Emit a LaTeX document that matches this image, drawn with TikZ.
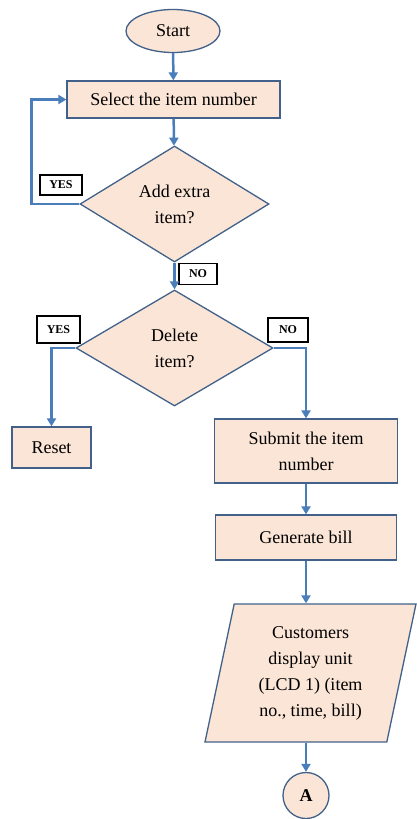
\documentclass[tikz,border=0pt]{standalone}
\usepackage{fontspec}
\setmainfont{Liberation Serif}
\usetikzlibrary{shapes.geometric,arrows.meta}
\definecolor{boxfill}{HTML}{FBE5D6}
\definecolor{boxline}{HTML}{41618A}
\definecolor{arrblue}{HTML}{4A7EBB}
\begin{document}
\begin{tikzpicture}[x=1pt,y=-1pt,
		every node/.style={font=\fontsize{18}{26}\selectfont},
		blk/.style={draw=boxline,fill=boxfill,line width=1.3pt,align=center,inner sep=2pt},
		arr/.style={draw=arrblue,line width=2.5pt,-{Triangle[width=9pt,length=8pt]}},
		lbl/.style={draw=black,fill=white,line width=1.4pt,inner sep=0pt,font=\fontsize{12}{14}\selectfont\bfseries}]
	\useasboundingbox (0,0) rectangle (416,819);
	\node[blk,ellipse,minimum width=94pt,minimum height=43pt] (start) at (173,31){Start};
	\node[blk,minimum width=213pt,minimum height=37pt] (select) at (173.5,99.5){Select the item number};
	\node[blk,diamond,aspect=1.63,minimum width=189pt,minimum height=116pt,inner sep=0pt] (add) at (174.5,204){Add extra\\item?};
	\node[blk,diamond,aspect=1.7,minimum width=197pt,minimum height=116pt,inner sep=0pt] (del) at (174.5,348){Delete\\item?};
	\node[blk,minimum width=79pt,minimum height=41pt] (reset) at (51.5,447.5){Reset};
	\node[blk,minimum width=183pt,minimum height=64pt] (submit) at (306,451){Submit the item\\number};
	\node[blk,minimum width=181pt,minimum height=45pt] (bill) at (306,537.5){Generate bill};
	\node[blk,trapezium,trapezium left angle=72.7,trapezium right angle=107.3,trapezium stretches body,
		minimum width=211pt,minimum height=138pt,inner sep=0pt] (disp) at (310.5,673)
		{Customers\\display unit\\(LCD 1) (item\\no., time, bill)};
	\node[blk,circle,minimum size=46pt,inner sep=0pt,font=\fontsize{18}{20}\selectfont\bfseries] (conA) at (306,795.5){A};
	\foreach \x/\y/\w/\h/\t in {61/185/42/20/YES,198/274/38/21/NO,58.5/329.5/43/27/YES,288/330/40/24/NO} {
		\node[lbl,minimum width=\w pt,minimum height=\h pt] at (\x,\y){\t};
	}
	\draw[arr] (start) -- (select);
	\draw[arr] (select) -- (add);
	\draw[arr] (add.west) -- ++(-48,0) |- (select.west);
	\draw[arr] (add) -- (del);
	\draw[arr] (del.west) -| (reset.north);
	\draw[arr] (del.east) -| (submit.north);
	\draw[arr] (submit) -- (bill);
	\draw[arr] (bill.south) -- (bill.south |- disp.north);
	\draw[arr] (conA |- disp.south) -- (conA);
\end{tikzpicture}
\end{document}
